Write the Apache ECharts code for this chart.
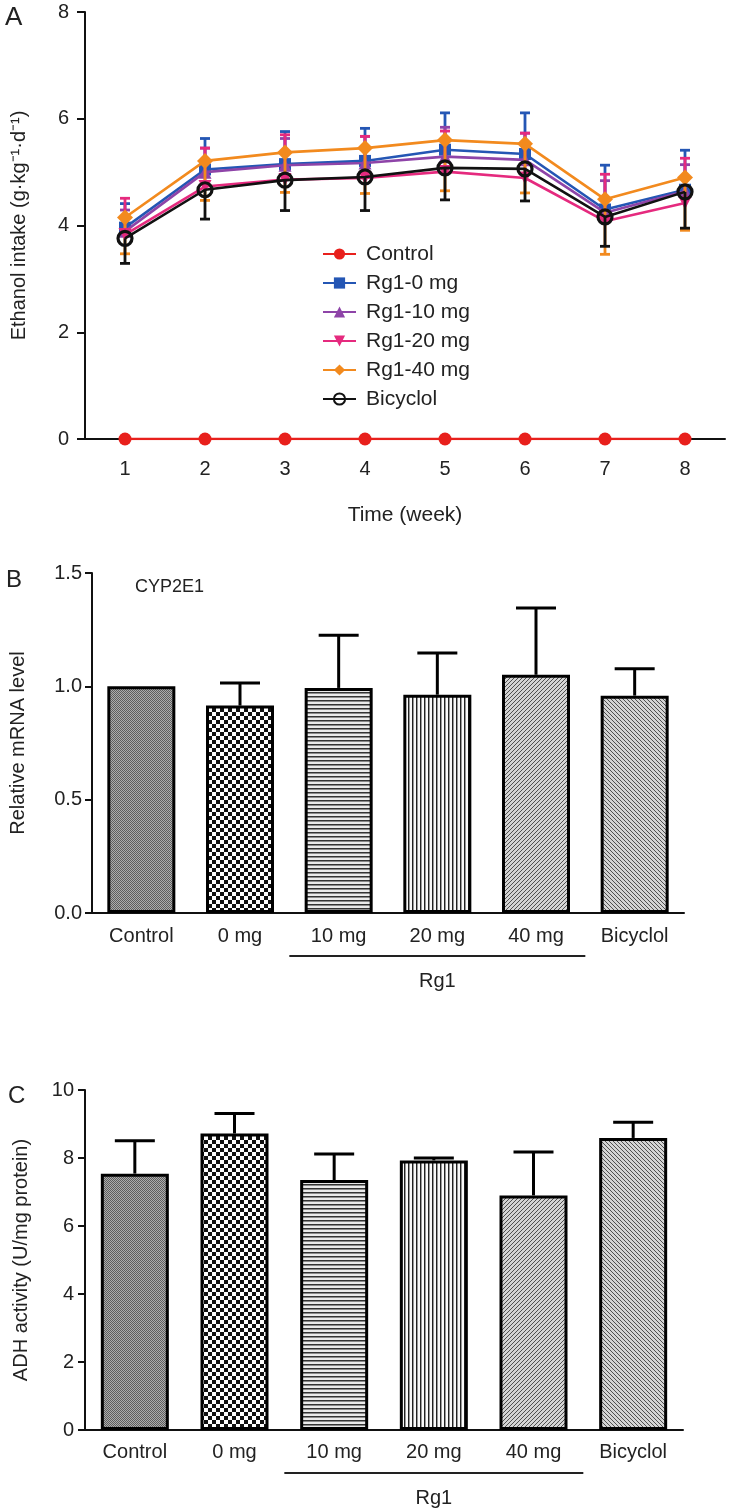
<!DOCTYPE html>
<html>
<head>
<meta charset="utf-8">
<script src="https://cdn.jsdelivr.net/npm/echarts@6/dist/echarts.min.js"></script>
<style>
html,body{margin:0;padding:0;background:#fff;}
#c{width:729px;height:1508px;}
</style>
</head>
<body>
<div id="c"></div>
<script>
// ---------- Panel A data ----------
const weeks = ['1','2','3','4','5','6','7','8'];
const controlA = [0,0,0,0,0,0,0,0];
const rg1_0 = [3.96, 5.05, 5.15, 5.21, 5.42, 5.34, 4.30, 4.67];
const rg1_0_sd = [0.45, 0.58, 0.61, 0.61, 0.69, 0.77, 0.83, 0.74];
const rg1_10 = [3.89, 5.00, 5.13, 5.17, 5.29, 5.23, 4.24, 4.64];
const rg1_10_sd = [0.40, 0.45, 0.50, 0.50, 0.55, 0.50, 0.60, 0.50];
const rg1_20 = [3.83, 4.73, 4.86, 4.89, 5.01, 4.89, 4.08, 4.42];
const rg1_20_sd = [0.68, 0.72, 0.84, 0.78, 0.76, 0.84, 0.88, 0.84];
const rg1_40 = [4.15, 5.21, 5.37, 5.45, 5.60, 5.53, 4.49, 4.90];
const rg1_40_sd = [0.68, 0.74, 0.75, 0.85, 0.95, 0.92, 1.03, 0.99];
const bicyclol = [3.76, 4.67, 4.85, 4.91, 5.08, 5.06, 4.16, 4.63];
const bicyclol_sd = [0.47, 0.55, 0.57, 0.63, 0.60, 0.60, 0.55, 0.68];

// ---------- Panel B data ----------
const groups = ['Control', '0 mg', '10 mg', '20 mg', '40 mg', 'Bicyclol'];
const cyp2e1 = [1.00, 0.915, 0.993, 0.963, 1.051, 0.959];
const cyp2e1_sd = [0, 0.10, 0.232, 0.184, 0.295, 0.119];

// ---------- Panel C data ----------
const adh = [7.54, 8.72, 7.35, 7.93, 6.90, 8.59];
const adh_sd = [0.97, 0.59, 0.77, 0.07, 1.28, 0.46];

const FONT = 'Liberation Sans, Arial, sans-serif';
const TXT = '#222';

// ---------- fill patterns ----------
function pat(w, h, draw) {
  const c = document.createElement('canvas');
  c.width = w; c.height = h;
  const g = c.getContext('2d');
  draw(g);
  return { image: c, repeat: 'repeat' };
}
const patterns = [
  pat(2, 2, g => { g.fillStyle = '#5e5e5e'; g.fillRect(0,0,2,2); g.fillStyle = '#adadad'; g.fillRect(1,0,1,1); g.fillRect(0,1,1,1); }),
  pat(8, 8, g => { g.fillStyle = '#fff'; g.fillRect(0,0,8,8); g.fillStyle = '#111'; g.fillRect(0,0,4,4); g.fillRect(4,4,4,4); }),
  pat(4, 4, g => { g.fillStyle = '#eaeaea'; g.fillRect(0,0,4,4); g.fillStyle = '#333'; g.fillRect(0,0,4,1); g.fillStyle = '#8a8a8a'; g.fillRect(0,1,4,1); }),
  pat(4, 4, g => { g.fillStyle = '#fafafa'; g.fillRect(0,0,4,4); g.fillStyle = '#222'; g.fillRect(0,0,1,4); g.fillStyle = '#999'; g.fillRect(1,0,1,4); }),
  pat(4, 4, g => { g.fillStyle = '#d4d4d4'; g.fillRect(0,0,4,4); g.fillStyle = '#505050'; for (let i=0;i<4;i++) g.fillRect(i,3-i,1,1); }),
  pat(4, 4, g => { g.fillStyle = '#d4d4d4'; g.fillRect(0,0,4,4); g.fillStyle = '#505050'; for (let i=0;i<4;i++) g.fillRect(i,i,1,1); })
];

function errRender(dir, capHalf, lw, color) {
  return function (params, api) {
    const x = api.value(0), m = api.value(1), e = api.value(2);
    if (!e) return null;
    const p0 = api.coord([x, m]);
    const p1 = api.coord([x, m + dir * e]);
    return {
      type: 'group',
      children: [
        { type: 'line', shape: { x1: p0[0], y1: p0[1], x2: p1[0], y2: p1[1] }, style: { stroke: color, lineWidth: lw } },
        { type: 'line', shape: { x1: p1[0] - capHalf, y1: p1[1], x2: p1[0] + capHalf, y2: p1[1] }, style: { stroke: color, lineWidth: lw } }
      ]
    };
  };
}
function errData(means, sds) { return means.map((m, i) => [i, m, sds[i]]); }

const linesA = [
  { name: 'Control', data: controlA, sd: null, color: '#e8201c', symbol: 'circle', size: 13, dir: 0 },
  { name: 'Rg1-0 mg', data: rg1_0, sd: rg1_0_sd, color: '#2456b4', symbol: 'rect', size: 12, dir: 1 },
  { name: 'Rg1-10 mg', data: rg1_10, sd: rg1_10_sd, color: '#8e44a8', symbol: 'triangle', size: 13, dir: 1 },
  { name: 'Rg1-20 mg', data: rg1_20, sd: rg1_20_sd, color: '#e52a7e', symbol: 'triangle', size: 13, dir: 1, rotate: 180 },
  { name: 'Rg1-40 mg', data: rg1_40, sd: rg1_40_sd, color: '#f28a1e', symbol: 'diamond', size: 16, dir: -1 },
  { name: 'Bicyclol', data: bicyclol, sd: bicyclol_sd, color: '#111111', symbol: 'circle', size: 14, dir: -1, hollow: true }
];

const series = [];
linesA.forEach((s, k) => {
  if (s.sd) {
    series.push({
      type: 'custom', name: s.name + ' err', xAxisIndex: 0, yAxisIndex: 0, z: 2 + k,
      renderItem: errRender(s.dir, 5, 2.8, s.color),
      encode: { x: 0, y: 1 }, data: errData(s.data, s.sd), silent: true
    });
  }
  series.push({
    type: 'line', name: s.name, xAxisIndex: 0, yAxisIndex: 0, z: s.name === 'Control' ? 20 : 3 + k,
    data: s.data, symbol: s.symbol, symbolSize: s.size, symbolRotate: s.rotate || 0,
    lineStyle: { color: s.color, width: 2.6 },
    itemStyle: s.hollow ? { color: 'rgba(255,255,255,0)', borderColor: s.color, borderWidth: 3.2 } : { color: s.color },
    emphasis: { disabled: true }, animation: false
  });
});

// Panel B bars
series.push({
  type: 'bar', xAxisIndex: 1, yAxisIndex: 1, barWidth: 68,
  data: cyp2e1.map((v, i) => ({ value: v, itemStyle: { color: patterns[i] } })),
  itemStyle: { borderColor: '#000', borderWidth: 3 }, animation: false, z: 2
});
series.push({
  type: 'custom', xAxisIndex: 1, yAxisIndex: 1, z: 3,
  renderItem: errRender(1, 20, 3, '#000'), encode: { x: 0, y: 1 }, data: errData(cyp2e1, cyp2e1_sd)
});
// Panel C bars
series.push({
  type: 'bar', xAxisIndex: 2, yAxisIndex: 2, barWidth: 68,
  data: adh.map((v, i) => ({ value: v, itemStyle: { color: patterns[i] } })),
  itemStyle: { borderColor: '#000', borderWidth: 3 }, animation: false, z: 2
});
series.push({
  type: 'custom', xAxisIndex: 2, yAxisIndex: 2, z: 3,
  renderItem: errRender(1, 20, 3, '#000'), encode: { x: 0, y: 1 }, data: errData(adh, adh_sd)
});

const axisLine = { show: true, lineStyle: { color: '#111', width: 2 } };
const lbl = (size, margin) => ({ color: TXT, fontFamily: FONT, fontSize: size, margin: margin });

const option = {
  backgroundColor: '#fff',
  animation: false,
  textStyle: { fontFamily: FONT },
  title: [
    { text: 'A', left: 0, top: 0, textStyle: { fontSize: 26, fontWeight: 'normal', color: TXT, fontFamily: FONT } },
    { text: 'B', left: 1, top: 563, textStyle: { fontSize: 24, fontWeight: 'normal', color: TXT, fontFamily: FONT } },
    { text: 'CYP2E1', left: 130, top: 573, textStyle: { fontSize: 18, fontWeight: 'normal', color: TXT, fontFamily: FONT } },
    { text: 'C', left: 3, top: 1079, textStyle: { fontSize: 24, fontWeight: 'normal', color: TXT, fontFamily: FONT } }
  ],
  legend: {
    data: linesA.map(s => s.name),
    orient: 'vertical', left: 317, top: 238,
    itemWidth: 33, itemHeight: 14, itemGap: 7,
    textStyle: { fontSize: 21, color: TXT, fontFamily: FONT, lineHeight: 22, padding: [0, 0, 0, 5] },
    selectedMode: false
  },
  grid: [
    { left: 85, top: 12, width: 640, height: 427 },
    { left: 87, top: 573, width: 597, height: 340 },
    { left: 85, top: 1090, width: 598, height: 340 }
  ],
  xAxis: [
    {
      gridIndex: 0, type: 'category', data: weeks, boundaryGap: true,
      axisLine: axisLine, axisTick: { show: true, alignWithLabel: true, length: 6, lineStyle: { color: '#111', width: 2 } },
      axisLabel: lbl(20, 20),
      name: 'Time (week)', nameLocation: 'middle', nameGap: 66,
      nameTextStyle: { fontSize: 21, color: TXT, fontFamily: FONT }
    },
    {
      gridIndex: 1, type: 'category', data: groups,
      axisLine: axisLine, axisTick: { show: false }, axisLabel: lbl(20, 13)
    },
    {
      gridIndex: 2, type: 'category', data: groups,
      axisLine: axisLine, axisTick: { show: false }, axisLabel: lbl(20, 12)
    }
  ],
  yAxis: [
    {
      gridIndex: 0, type: 'value', min: 0, max: 8, interval: 2,
      axisLine: axisLine, axisTick: { show: true, length: 8, lineStyle: { color: '#111', width: 2 } },
      splitLine: { show: false }, axisLabel: lbl(20, 16),
      name: 'Ethanol intake (g·kg⁻¹·d⁻¹)', nameLocation: 'middle', nameGap: 56, nameRotate: 90,
      nameTextStyle: { fontSize: 20, color: TXT, fontFamily: FONT }
    },
    {
      gridIndex: 1, type: 'value', min: 0, max: 1.5, interval: 0.5,
      axisLine: axisLine, axisTick: { show: true, length: 7, lineStyle: { color: '#111', width: 2 } },
      splitLine: { show: false }, axisLabel: Object.assign(lbl(20, 10), { formatter: v => v.toFixed(1) }),
      name: 'Relative mRNA level', nameLocation: 'middle', nameGap: 64, nameRotate: 90,
      nameTextStyle: { fontSize: 20, color: TXT, fontFamily: FONT }
    },
    {
      gridIndex: 2, type: 'value', min: 0, max: 10, interval: 2,
      axisLine: axisLine, axisTick: { show: true, length: 7, lineStyle: { color: '#111', width: 2 } },
      splitLine: { show: false }, axisLabel: lbl(20, 11),
      name: 'ADH activity (U/mg protein)', nameLocation: 'middle', nameGap: 54, nameRotate: 90,
      nameTextStyle: { fontSize: 20, color: TXT, fontFamily: FONT }
    }
  ],
  series: series
};

const chart = echarts.init(document.getElementById('c'), null, { renderer: 'canvas' });
chart.setOption(option);

// Rg1 group brackets under panels B and C, positioned from the axes
function bracket(axisIdx) {
  const c10 = chart.convertToPixel({ xAxisIndex: axisIdx }, '10 mg');
  const c20 = chart.convertToPixel({ xAxisIndex: axisIdx }, '20 mg');
  const c40 = chart.convertToPixel({ xAxisIndex: axisIdx }, '40 mg');
  const bw = c20 - c10;
  const y0 = chart.convertToPixel({ yAxisIndex: axisIdx }, 0);
  const x1 = c10 - bw / 2, x2 = c40 + bw / 2;
  return [
    { type: 'line', shape: { x1: x1, y1: y0 + 43, x2: x2, y2: y0 + 43 }, style: { stroke: '#222', lineWidth: 2 } },
    { type: 'text', x: (x1 + x2) / 2, y: y0 + 68, style: { text: 'Rg1', fill: TXT, font: '20px ' + FONT, textAlign: 'center', textVerticalAlign: 'middle' } }
  ];
}
chart.setOption({ graphic: { elements: bracket(1).concat(bracket(2)) } });
</script>
</body>
</html>
